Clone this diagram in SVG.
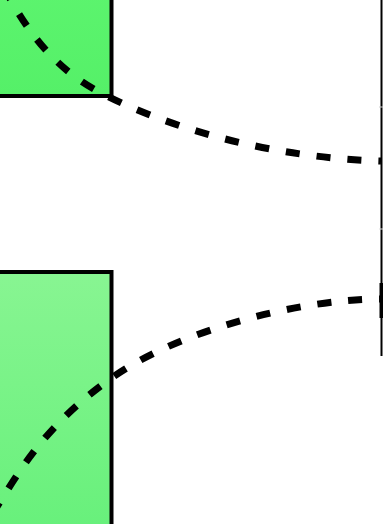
<svg xmlns="http://www.w3.org/2000/svg" width="383" height="524" viewBox="0 0 383 524">
  <defs>
    <linearGradient id="g1" x1="0" y1="0" x2="0" y2="1">
      <stop offset="0" stop-color="#5cf46e"/>
      <stop offset="1" stop-color="#55f068"/>
    </linearGradient>
    <linearGradient id="g2" x1="0" y1="0" x2="0" y2="1">
      <stop offset="0" stop-color="#88f592"/>
      <stop offset="1" stop-color="#66f07a"/>
    </linearGradient>
  </defs>
  <style>
    .node { stroke: #000; stroke-width: 4; }
    .conn { fill: none; stroke: #000; stroke-width: 7; stroke-dasharray: 14 17; }
  </style>
  <rect width="383" height="524" fill="#fff"/>
  <g id="node-top">
    <rect class="node" x="-10" y="-10" width="121.5" height="106" fill="url(#g1)"/>
  </g>
  <g id="node-bottom">
    <rect class="node" x="-10" y="272" width="121.5" height="270" fill="url(#g2)"/>
  </g>
  <g id="node-right">
    <line x1="381.5" y1="0" x2="381.5" y2="356" stroke="#000" stroke-width="2"/>
    <line x1="379" y1="107" x2="383" y2="107" stroke="#ccc" stroke-width="1"/>
    <line x1="379" y1="229" x2="383" y2="229" stroke="#ddd" stroke-width="1"/>
    <rect x="379.5" y="283" width="3.5" height="35" fill="#000"/>
  </g>
  <g id="connectors">
    <path class="conn" stroke-dashoffset="9" d="M 8,-5 C 35,45 66,76 105,95 C 150,118 250,157 381,161"/>
    <path class="conn" stroke-dashoffset="12" d="M 381,299 C 300,299 180,330 113,377 S 20,470 -5,510"/>
  </g>
</svg>
